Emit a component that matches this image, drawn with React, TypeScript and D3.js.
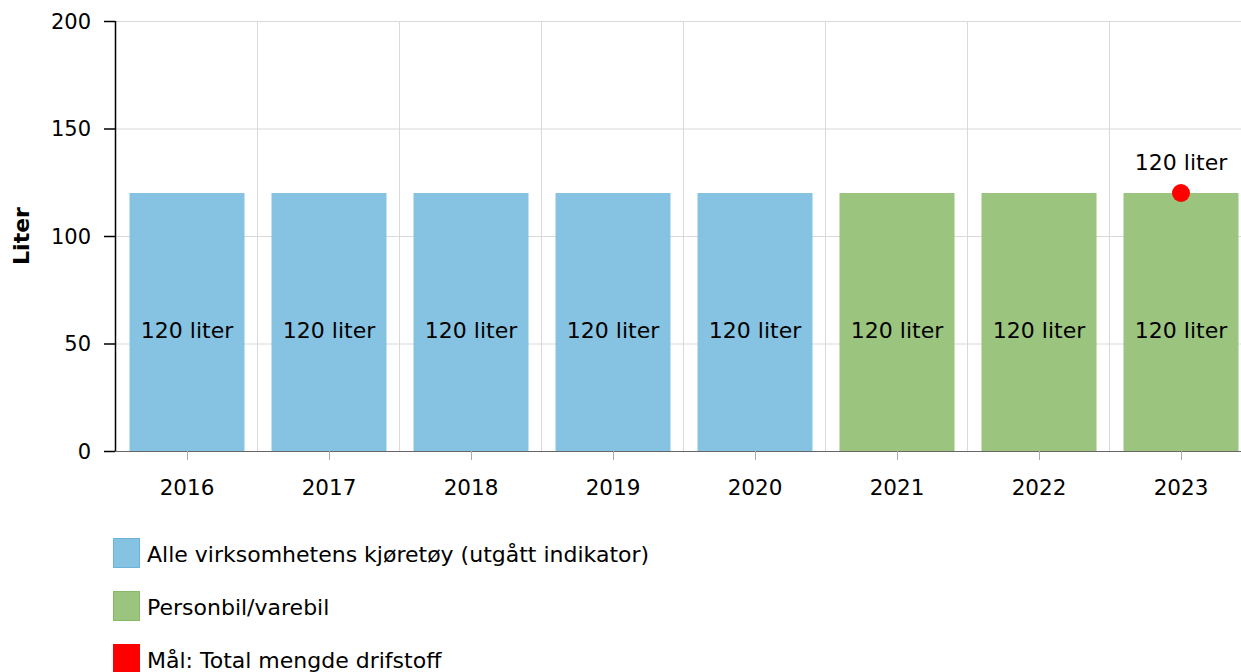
import * as d3 from 'd3';
import React from 'react';

const years = ['2016', '2017', '2018', '2019', '2020', '2021', '2022', '2023'];
const values = [120, 120, 120, 120, 120, 120, 120, 120];
const seriesOf = ['alle', 'alle', 'alle', 'alle', 'alle', 'person', 'person', 'person'];
const goalYears = ['2023'];
const goalValues = [120];
const yTicks = [0, 50, 100, 150, 200];

const legendItems = [
	{ key: 'alle', label: 'Alle virksomhetens kjøretøy (utgått indikator)', fill: '#86c3e2', stroke: '#6cb3dc' },
	{ key: 'person', label: 'Personbil/varebil', fill: '#9bc47f', stroke: '#86b866' },
	{ key: 'goal', label: 'Mål: Total mengde drifstoff', fill: '#ff0000', stroke: '#ff0000' },
];

const W = 1241;
const H = 672;
const margin = { top: 21, left: 115, bottom: 451 };
const font = '"DejaVu Sans", Verdana, sans-serif';

export default function App() {
	const x = d3.scaleBand().domain(years).range([margin.left, margin.left + 8 * 142]).paddingInner(0.19).paddingOuter(0.095);
	const y = d3.scaleLinear().domain([0, 200]).range([margin.bottom, margin.top]);
	const gap = (x.step() - x.bandwidth()) / 2;
	const colorOf = (k: string) => legendItems.find((l) => l.key === k)!.fill;

	return (
		<svg width={W} height={H} style={{ position: 'absolute', left: 0, top: 0 }} fontFamily={font}>
			{/* grid */}
			<g stroke="#d9d9d9" strokeWidth={1}>
				{yTicks.filter((t) => t > 0).map((t) => (
					<line key={t} x1={margin.left} x2={W} y1={y(t) + 0.5} y2={y(t) + 0.5} />
				))}
				{years.slice(1).map((yr) => (
					<line key={yr} x1={x(yr)! - gap + 0.5} x2={x(yr)! - gap + 0.5} y1={margin.top} y2={margin.bottom} />
				))}
			</g>
			{/* bars */}
			{years.map((yr, i) => (
				<rect key={yr} x={x(yr)! + 1} y={y(values[i])} width={x.bandwidth()} height={y(0) - y(values[i])} fill={colorOf(seriesOf[i])} />
			))}
			{years.map((yr, i) => (
				<text key={yr} x={x(yr)! + 1 + x.bandwidth() / 2} y={(y(values[i]) + y(0)) / 2 + 16} textAnchor="middle" fontSize={22} fill="#000">
					{values[i]} liter
				</text>
			))}
			{/* x axis */}
			<line x1={margin.left} x2={W} y1={margin.bottom + 0.5} y2={margin.bottom + 0.5} stroke="#666" />
			{years.map((yr) => (
				<g key={yr} transform={`translate(${x(yr)! + 1 + x.bandwidth() / 2},${margin.bottom})`}>
					<line x1={0.5} x2={0.5} y1={0} y2={9} stroke="#aaa" />
					<text y={44} textAnchor="middle" fontSize={21.5} fill="#000">{yr}</text>
				</g>
			))}
			{/* y axis */}
			<line x1={margin.left + 0.5} x2={margin.left + 0.5} y1={margin.top} y2={margin.bottom} stroke="#000" strokeWidth={1.5} />
			{yTicks.map((t) => (
				<g key={t} transform={`translate(0,${y(t)})`}>
					<line x1={104} x2={margin.left} y1={0.5} y2={0.5} stroke="#000" strokeWidth={1.5} />
					<text x={91} y={7.5} textAnchor="end" fontSize={21} fill="#000">{t}</text>
				</g>
			))}
			<text transform={`translate(29,${(margin.top + margin.bottom) / 2}) rotate(-90)`} textAnchor="middle" fontSize={22} fontWeight="bold">Liter</text>
			{/* goal */}
			{goalYears.map((yr, i) => (
				<g key={yr}>
					<circle cx={x(yr)! + 1 + x.bandwidth() / 2} cy={y(goalValues[i])} r={9} fill="#ff0000" />
					<text x={x(yr)! + 1 + x.bandwidth() / 2} y={y(goalValues[i]) - 23} textAnchor="middle" fontSize={22} fill="#000">
						{goalValues[i]} liter
					</text>
				</g>
			))}
			{/* legend */}
			{legendItems.map((l, i) => (
				<g key={l.key} transform={`translate(113,${538 + i * 53})`}>
					<rect x={0.5} y={0.5} width={26} height={29} fill={l.fill} stroke={l.stroke} />
					<text x={34} y={24} fontSize={22} fill="#000">{l.label}</text>
				</g>
			))}
		</svg>
	);
}
